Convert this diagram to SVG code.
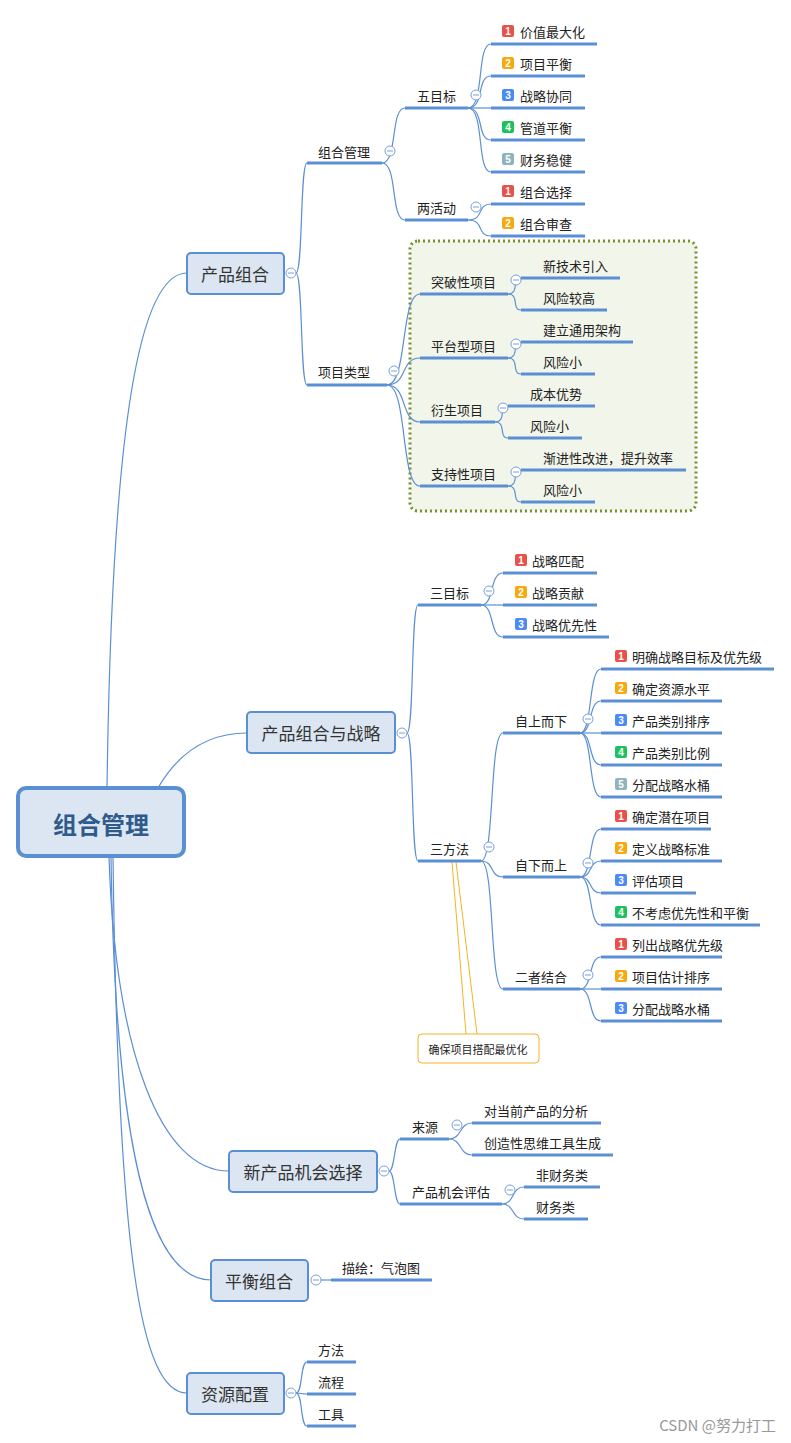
<svg xmlns="http://www.w3.org/2000/svg" width="791" height="1443" viewBox="0 0 791 1443">
<style>
text{font-family:"Noto Sans CJK SC","Liberation Sans",sans-serif;fill:#222;dominant-baseline:central}
.t{font-size:13px}
.b{font-size:17px;fill:#333;text-anchor:middle}
.box{fill:#dce6f2;stroke:#5b8fd4;stroke-width:2}
.ul{stroke:#5b8fd4;stroke-width:3}
.c path,.c line{fill:none;stroke:#5b8fd4;stroke-width:1.2}
.cc{fill:#fff;stroke:#7a9fd8;stroke-width:1}
.n{font-size:10px;fill:#fff;font-weight:bold;text-anchor:middle;font-family:"Liberation Sans",sans-serif}
.b1{fill:#e8524a}.b2{fill:#f7a90f}.b3{fill:#4b8bf4}.b4{fill:#1cc35d}.b5{fill:#8fb4bc}
</style>
<defs>
<g id="col"><circle class="cc" r="5"/><line x1="-3" x2="3" y1="0" y2="0" stroke="#7a9fd8" stroke-width="1"/></g>
</defs>
<rect x="410" y="241" width="286" height="270" rx="8" fill="#f2f5ea" stroke="#77902f" stroke-width="3" stroke-dasharray="2,3"/>
<g class="c" id="connectors">
<path d="M107 788 C112 420 140 273 187 273"/>
<path d="M158 788 C180 750 210 733 247 733"/>
<path d="M109 856 C115 1050 160 1171 229 1171"/>
<path d="M111 856 C115 1150 150 1280 211 1280"/>
<path d="M113 856 C118 1250 140 1393 187 1393"/>
<path d="M296 273 C303 273 300 163 307 163"/><path d="M296 273 C303 273 300 385 307 385"/>
<path d="M382 163 C398 163 390 108 405 108"/><path d="M382 163 C398 163 390 220 405 220"/>
<path d="M468 108 C485 108 476 44 491 44"/><path d="M468 108 C485 108 476 76 491 76"/><path d="M468 108 L491 108"/><path d="M468 108 C485 108 476 140 491 140"/><path d="M468 108 C485 108 476 172 491 172"/>
<path d="M468 220 C485 220 476 204 491 204"/><path d="M468 220 C485 220 476 236 491 236"/>
<path d="M387 385 C408 385 400 294 420 294"/><path d="M387 385 C408 385 400 358 420 358"/><path d="M387 385 C408 385 400 422 420 422"/><path d="M387 385 C408 385 400 486 420 486"/>
<path d="M508 294 C520 294 511 278 521 278"/><path d="M508 294 C520 294 511 310 521 310"/>
<path d="M508 358 C520 358 511 342 521 342"/><path d="M508 358 C520 358 511 374 521 374"/>
<path d="M495 422 C507 422 498 406 508 406"/><path d="M495 422 C507 422 498 438 508 438"/>
<path d="M508 486 C520 486 511 470 521 470"/><path d="M508 486 C520 486 511 502 521 502"/>
<path d="M407 733 C414 733 411 605 418 605"/><path d="M407 733 C414 733 411 861 418 861"/>
<path d="M481 605 C495 605 489 573 503 573"/><path d="M481 605 L503 605"/><path d="M481 605 C495 605 489 637 503 637"/>
<path d="M481 861 C495 861 489 733 503 733"/><path d="M481 861 C495 861 489 877 503 877"/><path d="M481 861 C495 861 489 989 503 989"/>
<path d="M580 733 C593 733 588 669 601 669"/><path d="M580 733 C593 733 588 701 601 701"/><path d="M580 733 L601 733"/><path d="M580 733 C593 733 588 765 601 765"/><path d="M580 733 C593 733 588 797 601 797"/>
<path d="M580 877 C593 877 588 829 601 829"/><path d="M580 877 C593 877 588 861 601 861"/><path d="M580 877 C593 877 588 893 601 893"/><path d="M580 877 C593 877 588 925 601 925"/>
<path d="M580 989 C593 989 588 957 601 957"/><path d="M580 989 L601 989"/><path d="M580 989 C593 989 588 1021 601 1021"/>
<path d="M389 1171 C395 1171 394 1139 400 1139"/><path d="M389 1171 C395 1171 394 1204 400 1204"/>
<path d="M449 1139 C462 1139 459 1123 472 1123"/><path d="M449 1139 C462 1139 459 1155 472 1155"/>
<path d="M502 1204 C515 1204 511 1187 524 1187"/><path d="M502 1204 C515 1204 511 1219 524 1219"/>
<path d="M321 1280 L331 1280"/>
<path d="M296 1393 C303 1393 300 1362 307 1362"/><path d="M296 1393 C303 1393 300 1394 307 1394"/><path d="M296 1393 C303 1393 300 1426 307 1426"/>
<path d="M452 862 L466 1034 M456 862 L477 1034" style="stroke:#f5b225;stroke-width:1"/>
</g>
<g id="root"><rect x="18" y="788" width="166" height="68" rx="8" fill="#dce6f2" stroke="#5b8fd4" stroke-width="4"/><text x="101" y="823" style="font-size:24px;font-weight:bold;fill:#2e5a8c;text-anchor:middle">组合管理</text></g>
<g id="b1"><rect class="box" x="187" y="253" width="97" height="41" rx="4"/><text class="b" x="235" y="273">产品组合</text><use href="#col" x="291" y="273"/></g>
<g id="b2"><rect class="box" x="247" y="712" width="148" height="41" rx="4"/><text class="b" x="321" y="732">产品组合与战略</text><use href="#col" x="402" y="733"/></g>
<g id="b3"><rect class="box" x="229" y="1151" width="148" height="41" rx="4"/><text class="b" x="303" y="1171">新产品机会选择</text><use href="#col" x="384" y="1171"/></g>
<g id="b4"><rect class="box" x="211" y="1260" width="97" height="41" rx="4"/><text class="b" x="259" y="1280">平衡组合</text><use href="#col" x="316" y="1280"/></g>
<g id="b5"><rect class="box" x="187" y="1373" width="97" height="41" rx="4"/><text class="b" x="235" y="1393">资源配置</text><use href="#col" x="291" y="1393"/></g>
<g id="sub">
<g><line class="ul" x1="307" x2="382" y1="163" y2="163"/><text class="t" x="318" y="151">组合管理</text><use href="#col" x="390" y="151"/></g>
<g><line class="ul" x1="307" x2="387" y1="385" y2="385"/><text class="t" x="318" y="371">项目类型</text><use href="#col" x="394" y="371"/></g>
<g><line class="ul" x1="405" x2="468" y1="108" y2="108"/><text class="t" x="417" y="95">五目标</text><use href="#col" x="476" y="95"/></g>
<g><line class="ul" x1="405" x2="468" y1="220" y2="220"/><text class="t" x="417" y="207">两活动</text><use href="#col" x="476" y="207"/></g>
<g><line class="ul" x1="491" x2="597" y1="44" y2="44"/><rect class="b1" x="502" y="25" width="12" height="12" rx="2"/><text class="n" x="508" y="31">1</text><text class="t" x="520" y="31">价值最大化</text></g>
<g><line class="ul" x1="491" x2="585" y1="76" y2="76"/><rect class="b2" x="502" y="57" width="12" height="12" rx="2"/><text class="n" x="508" y="63">2</text><text class="t" x="520" y="63">项目平衡</text></g>
<g><line class="ul" x1="491" x2="585" y1="108" y2="108"/><rect class="b3" x="502" y="89" width="12" height="12" rx="2"/><text class="n" x="508" y="95">3</text><text class="t" x="520" y="95">战略协同</text></g>
<g><line class="ul" x1="491" x2="585" y1="140" y2="140"/><rect class="b4" x="502" y="121" width="12" height="12" rx="2"/><text class="n" x="508" y="127">4</text><text class="t" x="520" y="127">管道平衡</text></g>
<g><line class="ul" x1="491" x2="585" y1="172" y2="172"/><rect class="b5" x="502" y="153" width="12" height="12" rx="2"/><text class="n" x="508" y="159">5</text><text class="t" x="520" y="159">财务稳健</text></g>
<g><line class="ul" x1="491" x2="585" y1="204" y2="204"/><rect class="b1" x="502" y="185" width="12" height="12" rx="2"/><text class="n" x="508" y="191">1</text><text class="t" x="520" y="191">组合选择</text></g>
<g><line class="ul" x1="491" x2="585" y1="236" y2="236"/><rect class="b2" x="502" y="217" width="12" height="12" rx="2"/><text class="n" x="508" y="223">2</text><text class="t" x="520" y="223">组合审查</text></g>
<g><line class="ul" x1="420" x2="508" y1="294" y2="294"/><text class="t" x="431" y="281">突破性项目</text><use href="#col" x="516" y="280"/></g>
<g><line class="ul" x1="521" x2="620" y1="278" y2="278"/><text class="t" x="543" y="265">新技术引入</text></g>
<g><line class="ul" x1="521" x2="607" y1="310" y2="310"/><text class="t" x="543" y="297">风险较高</text></g>
<g><line class="ul" x1="420" x2="508" y1="358" y2="358"/><text class="t" x="431" y="345">平台型项目</text><use href="#col" x="516" y="344"/></g>
<g><line class="ul" x1="521" x2="633" y1="342" y2="342"/><text class="t" x="543" y="329">建立通用架构</text></g>
<g><line class="ul" x1="521" x2="595" y1="374" y2="374"/><text class="t" x="543" y="361">风险小</text></g>
<g><line class="ul" x1="420" x2="495" y1="422" y2="422"/><text class="t" x="431" y="409">衍生项目</text><use href="#col" x="503" y="408"/></g>
<g><line class="ul" x1="508" x2="595" y1="406" y2="406"/><text class="t" x="530" y="393">成本优势</text></g>
<g><line class="ul" x1="508" x2="582" y1="438" y2="438"/><text class="t" x="530" y="425">风险小</text></g>
<g><line class="ul" x1="420" x2="508" y1="486" y2="486"/><text class="t" x="431" y="473">支持性项目</text><use href="#col" x="516" y="472"/></g>
<g><line class="ul" x1="521" x2="686" y1="470" y2="470"/><text class="t" x="543" y="457">渐进性改进，提升效率</text></g>
<g><line class="ul" x1="521" x2="595" y1="502" y2="502"/><text class="t" x="543" y="489">风险小</text></g>
<g><line class="ul" x1="418" x2="481" y1="605" y2="605"/><text class="t" x="430" y="592">三目标</text><use href="#col" x="489" y="591"/></g>
<g><line class="ul" x1="503" x2="597" y1="573" y2="573"/><rect class="b1" x="515" y="554" width="12" height="12" rx="2"/><text class="n" x="521" y="560">1</text><text class="t" x="532" y="560">战略匹配</text></g>
<g><line class="ul" x1="503" x2="597" y1="605" y2="605"/><rect class="b2" x="515" y="586" width="12" height="12" rx="2"/><text class="n" x="521" y="592">2</text><text class="t" x="532" y="592">战略贡献</text></g>
<g><line class="ul" x1="503" x2="609" y1="637" y2="637"/><rect class="b3" x="515" y="618" width="12" height="12" rx="2"/><text class="n" x="521" y="624">3</text><text class="t" x="532" y="624">战略优先性</text></g>
<g><line class="ul" x1="418" x2="481" y1="861" y2="861"/><text class="t" x="430" y="848">三方法</text><use href="#col" x="489" y="847"/></g>
<g><line class="ul" x1="503" x2="580" y1="733" y2="733"/><text class="t" x="515" y="720">自上而下</text><use href="#col" x="588" y="719"/></g>
<g><line class="ul" x1="503" x2="580" y1="877" y2="877"/><text class="t" x="515" y="864">自下而上</text><use href="#col" x="588" y="863"/></g>
<g><line class="ul" x1="503" x2="580" y1="989" y2="989"/><text class="t" x="515" y="976">二者结合</text><use href="#col" x="588" y="975"/></g>
<g><line class="ul" x1="601" x2="774" y1="669" y2="669"/><rect class="b1" x="615" y="650" width="12" height="12" rx="2"/><text class="n" x="621" y="656">1</text><text class="t" x="632" y="656">明确战略目标及优先级</text></g>
<g><line class="ul" x1="601" x2="722" y1="701" y2="701"/><rect class="b2" x="615" y="682" width="12" height="12" rx="2"/><text class="n" x="621" y="688">2</text><text class="t" x="632" y="688">确定资源水平</text></g>
<g><line class="ul" x1="601" x2="722" y1="733" y2="733"/><rect class="b3" x="615" y="714" width="12" height="12" rx="2"/><text class="n" x="621" y="720">3</text><text class="t" x="632" y="720">产品类别排序</text></g>
<g><line class="ul" x1="601" x2="722" y1="765" y2="765"/><rect class="b4" x="615" y="746" width="12" height="12" rx="2"/><text class="n" x="621" y="752">4</text><text class="t" x="632" y="752">产品类别比例</text></g>
<g><line class="ul" x1="601" x2="722" y1="797" y2="797"/><rect class="b5" x="615" y="778" width="12" height="12" rx="2"/><text class="n" x="621" y="784">5</text><text class="t" x="632" y="784">分配战略水桶</text></g>
<g><line class="ul" x1="601" x2="711" y1="829" y2="829"/><rect class="b1" x="615" y="810" width="12" height="12" rx="2"/><text class="n" x="621" y="816">1</text><text class="t" x="632" y="816">确定潜在项目</text></g>
<g><line class="ul" x1="601" x2="722" y1="861" y2="861"/><rect class="b2" x="615" y="842" width="12" height="12" rx="2"/><text class="n" x="621" y="848">2</text><text class="t" x="632" y="848">定义战略标准</text></g>
<g><line class="ul" x1="601" x2="696" y1="893" y2="893"/><rect class="b3" x="615" y="874" width="12" height="12" rx="2"/><text class="n" x="621" y="880">3</text><text class="t" x="632" y="880">评估项目</text></g>
<g><line class="ul" x1="601" x2="760" y1="925" y2="925"/><rect class="b4" x="615" y="906" width="12" height="12" rx="2"/><text class="n" x="621" y="912">4</text><text class="t" x="632" y="912">不考虑优先性和平衡</text></g>
<g><line class="ul" x1="601" x2="722" y1="957" y2="957"/><rect class="b1" x="615" y="938" width="12" height="12" rx="2"/><text class="n" x="621" y="944">1</text><text class="t" x="632" y="944">列出战略优先级</text></g>
<g><line class="ul" x1="601" x2="722" y1="989" y2="989"/><rect class="b2" x="615" y="970" width="12" height="12" rx="2"/><text class="n" x="621" y="976">2</text><text class="t" x="632" y="976">项目估计排序</text></g>
<g><line class="ul" x1="601" x2="722" y1="1021" y2="1021"/><rect class="b3" x="615" y="1002" width="12" height="12" rx="2"/><text class="n" x="621" y="1008">3</text><text class="t" x="632" y="1008">分配战略水桶</text></g>
<g id="callout"><rect x="418" y="1034" width="121" height="29" rx="4" fill="#fff" stroke="#f5b225" stroke-width="1"/><text x="478" y="1049" style="font-size:11px;text-anchor:middle">确保项目搭配最优化</text></g>
<g><line class="ul" x1="400" x2="449" y1="1139" y2="1139"/><text class="t" x="412" y="1126">来源</text><use href="#col" x="457" y="1125"/></g>
<g><line class="ul" x1="472" x2="601" y1="1123" y2="1123"/><text class="t" x="484" y="1110">对当前产品的分析</text></g>
<g><line class="ul" x1="472" x2="613" y1="1155" y2="1155"/><text class="t" x="484" y="1142">创造性思维工具生成</text></g>
<g><line class="ul" x1="400" x2="502" y1="1204" y2="1204"/><text class="t" x="412" y="1191">产品机会评估</text><use href="#col" x="510" y="1190"/></g>
<g><line class="ul" x1="524" x2="600" y1="1187" y2="1187"/><text class="t" x="536" y="1174">非财务类</text></g>
<g><line class="ul" x1="524" x2="588" y1="1219" y2="1219"/><text class="t" x="536" y="1206">财务类</text></g>
<g><line class="ul" x1="331" x2="432" y1="1280" y2="1280"/><text class="t" x="342" y="1267">描绘：气泡图</text></g>
<g><line class="ul" x1="307" x2="356" y1="1362" y2="1362"/><text class="t" x="318" y="1349">方法</text></g>
<g><line class="ul" x1="307" x2="356" y1="1394" y2="1394"/><text class="t" x="318" y="1381">流程</text></g>
<g><line class="ul" x1="307" x2="356" y1="1426" y2="1426"/><text class="t" x="318" y="1413">工具</text></g>
</g>
<text x="776" y="1424" style="font-size:15px;fill:#999;text-anchor:end">CSDN @努力打工</text>
</svg>
